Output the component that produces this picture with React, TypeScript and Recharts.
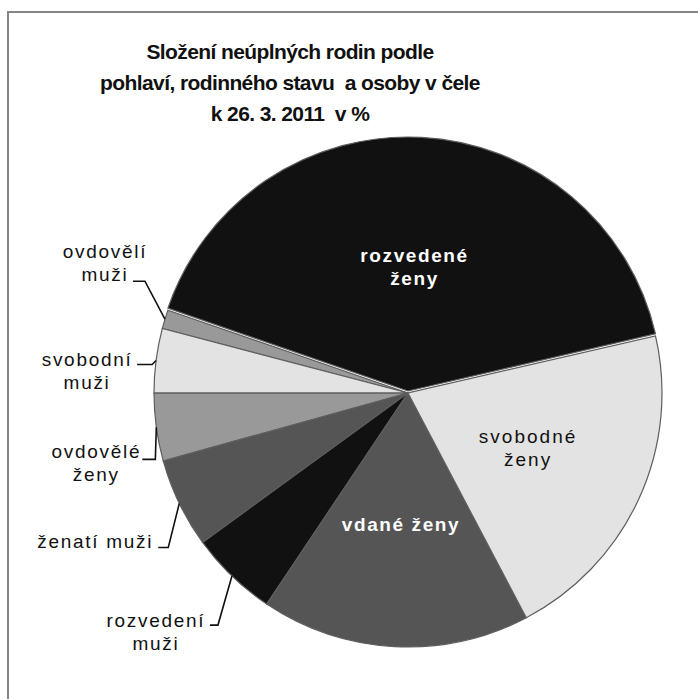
import React from 'react';
import { PieChart, Pie, Cell } from 'recharts';

const categories = [
  'rozvedené ženy',
  'ovdovělí muži',
  'svobodní muži',
  'ovdovělé ženy',
  'ženatí muži',
  'rozvedení muži',
  'vdané ženy',
  'svobodné ženy',
];
const shares = [41.1, 1.2, 4.1, 4.3, 5.7, 5.6, 17.1, 20.9];
const labelTexts = [
  ['rozvedené', 'ženy'],
  ['ovdovělí', 'muži'],
  ['svobodní', 'muži'],
  ['ovdovělé', 'ženy'],
  ['ženatí muži'],
  ['rozvedení', 'muži'],
  ['vdané ženy'],
  ['svobodné', 'ženy'],
];
const titleLines = [
  'Složení neúplných rodin podle',
  'pohlaví, rodinného stavu  a osoby v čele',
  'k 26. 3. 2011  v %',
];

const fills = ['#111111', '#999999', '#e3e3e3', '#999999', '#555555', '#111111', '#555555', '#e3e3e3'];

type Layout =
  | { kind: 'inside'; r: number; color: string; bold: boolean }
  | { kind: 'outside'; elbow: [number, number]; hLen: number; text: [number, number] };

const labelLayout: Layout[] = [
  { kind: 'inside', r: 0.49, color: '#ffffff', bold: true },
  { kind: 'outside', elbow: [-20, -38], hLen: 12, text: [-28, -30] },
  { kind: 'outside', elbow: [-4, 4], hLen: 15, text: [-50, -5] },
  { kind: 'outside', elbow: [-1, 32], hLen: 13, text: [-46, -8] },
  { kind: 'outside', elbow: [-11, 44], hLen: 10, text: [-63, -6] },
  { kind: 'outside', elbow: [-14, 49], hLen: 8, text: [-54, -5] },
  { kind: 'inside', r: 0.52, color: '#ffffff', bold: true },
  { kind: 'inside', r: 0.52, color: '#111111', bold: false },
];

const data = categories.map((name, i) => ({ name, value: shares[i] }));

const CX = 408;
const CY = 393;
const R = 254;
const EXPLODE = 2;
const LINE_H = 23;
const FONT = '"Liberation Sans", Arial, sans-serif';

const renderLabel = (props: any) => {
  const { midAngle, index } = props;
  const RAD = Math.PI / 180;
  const cx = CX;
  const cy = CY;
  const lay = labelLayout[index];
  const lines = labelTexts[index];
  const cos = Math.cos(-midAngle * RAD);
  const sin = Math.sin(-midAngle * RAD);
  if (lay.kind === 'inside') {
    const off = index === 0 ? EXPLODE : 0;
    const x = cx + R * lay.r * cos;
    const y = cy - off + R * lay.r * sin;
    const start = y - ((lines.length - 1) * LINE_H) / 2;
    return (
      <g key={`lab-${index}`}>
        {lines.map((t, k) => (
          <text
            key={k}
            x={x}
            y={start + k * LINE_H}
            textAnchor="middle"
            dominantBaseline="central"
            fill={lay.color}
            fontFamily={FONT}
            fontSize={19}
            fontWeight={lay.bold ? 'bold' : 'normal'}
            letterSpacing={lay.bold ? 1.6 : 2.0}
          >
            {t}
          </text>
        ))}
      </g>
    );
  }
  const px = cx + R * cos;
  const py = cy + R * sin;
  const ex = px + lay.elbow[0];
  const ey = py + lay.elbow[1];
  const hx = ex - lay.hLen;
  const tx = hx + lay.text[0];
  const ty = ey + lay.text[1];
  return (
    <g key={`lab-${index}`}>
      <polyline
        points={`${px},${py} ${ex},${ey} ${hx},${ey}`}
        fill="none"
        stroke="#111"
        strokeWidth={1.6}
      />
      {lines.map((t, k) => (
        <text
          key={k}
          x={tx}
          y={ty + k * LINE_H}
          textAnchor="middle"
          dominantBaseline="central"
          fill="#111"
          fontFamily={FONT}
          fontSize={19}
          letterSpacing={1.7}
        >
          {t}
        </text>
      ))}
    </g>
  );
};

export default function App() {
  return (
    <div
      style={{
        position: 'fixed',
        left: 0,
        top: 0,
        width: 698,
        height: 699,
        overflow: 'hidden',
        background: '#fff',
      }}
    >
      <div
        style={{
          position: 'absolute',
          left: 7,
          top: 11,
          width: 720,
          height: 720,
          borderLeft: '2px solid #858585',
          borderTop: '2px solid #858585',
        }}
      />
      <div
        style={{
          position: 'absolute',
          left: 0,
          top: 36,
          width: 580,
          textAlign: 'center',
          fontFamily: FONT,
          fontWeight: 'bold',
          fontSize: 21,
          letterSpacing: -0.6,
          lineHeight: '31px',
          color: '#111',
          whiteSpace: 'pre',
        }}
      >
        {titleLines.map((t, i) => (
          <div key={i}>{t}</div>
        ))}
      </div>
      <div style={{ position: 'absolute', left: 0, top: 0 }}>
        <PieChart width={698} height={699} margin={{ top: 0, right: 0, bottom: 0, left: 0 }}>
          <Pie
            data={data}
            dataKey="value"
            nameKey="name"
            cx={CX}
            cy={CY}
            outerRadius={R}
            startAngle={13}
            endAngle={373}
            isAnimationActive={false}
            label={false}
            labelLine={false}
          >
            {data.map((d, i) => (
              <Cell
                key={d.name}
                fill={i === 0 ? '#ffffff' : fills[i]}
                stroke={i === 0 ? '#ffffff' : '#5e5e5e'}
                strokeWidth={1.2}
              />
            ))}
          </Pie>
          <Pie
            data={data}
            dataKey="value"
            nameKey="name"
            cx={CX}
            cy={CY - EXPLODE}
            outerRadius={R}
            startAngle={13}
            endAngle={373}
            isAnimationActive={false}
            label={renderLabel}
            labelLine={false}
          >
            {data.map((d, i) => (
              <Cell
                key={d.name}
                fill={i === 0 ? fills[0] : 'none'}
                stroke={i === 0 ? '#5e5e5e' : 'none'}
                strokeWidth={1.2}
              />
            ))}
          </Pie>
        </PieChart>
      </div>
    </div>
  );
}
